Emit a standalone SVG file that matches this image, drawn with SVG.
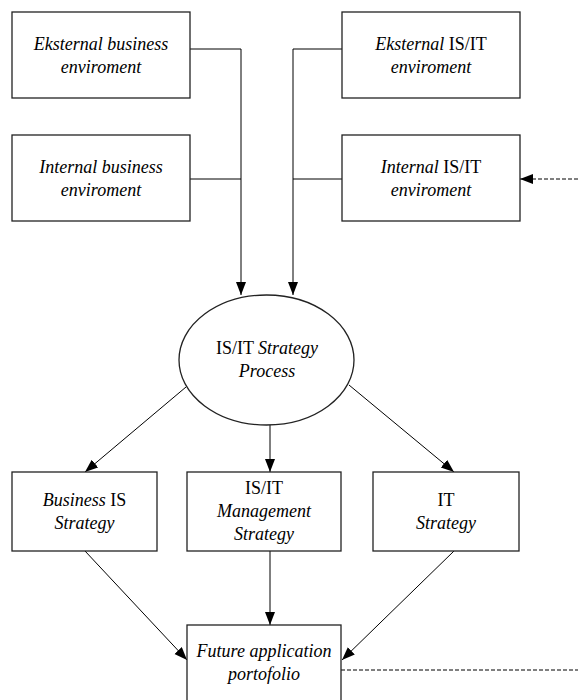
<svg xmlns="http://www.w3.org/2000/svg" width="578" height="700" viewBox="0 0 578 700">
<style>
.box{fill:#fff;stroke:#222;stroke-width:1.3}
.ln{fill:none;stroke:#000;stroke-width:1}
.dash{fill:none;stroke:#000;stroke-width:1;stroke-dasharray:4 2}
text{font-family:'Liberation Serif','Tinos','Times New Roman','Nimbus Roman','DejaVu Serif',serif;font-size:18px;fill:#000;text-anchor:middle}
.i{font-style:italic}
</style>
<defs>
<marker id="ah" markerUnits="userSpaceOnUse" markerWidth="14" markerHeight="12" refX="13" refY="5" orient="auto">
<path d="M0,0 L13,5 L0,10 Z" fill="#000"/>
</marker>
</defs>
<rect width="578" height="700" fill="#fff"/>
<g id="connectors">
<polyline class="ln" points="190,49 241,49 241,295" marker-end="url(#ah)"/>
<line class="ln" x1="190" y1="179" x2="241" y2="179"/>
<polyline class="ln" points="342,49 293,49 293,295" marker-end="url(#ah)"/>
<line class="ln" x1="342" y1="179" x2="293" y2="179"/>
<line class="dash" x1="578" y1="179" x2="520" y2="179" marker-end="url(#ah)"/>
<line class="ln" x1="186" y1="387" x2="85" y2="472" marker-end="url(#ah)"/>
<line class="ln" x1="270" y1="425" x2="270" y2="472" marker-end="url(#ah)"/>
<line class="ln" x1="349" y1="385" x2="454" y2="472" marker-end="url(#ah)"/>
<line class="ln" x1="85" y1="551" x2="187" y2="660" marker-end="url(#ah)"/>
<line class="ln" x1="270" y1="551" x2="270" y2="625" marker-end="url(#ah)"/>
<line class="ln" x1="454" y1="551" x2="342" y2="660" marker-end="url(#ah)"/>
<line class="dash" x1="341" y1="670" x2="578" y2="670"/>
</g>
<g id="ext-business">
<rect class="box" x="12" y="12" width="178" height="86"/>
<text x="101" y="50" class="i">Eksternal business</text>
<text x="101" y="73" class="i">enviroment</text>
</g>
<g id="int-business">
<rect class="box" x="12" y="135" width="178" height="86"/>
<text x="101" y="173" class="i">Internal business</text>
<text x="101" y="196" class="i">enviroment</text>
</g>
<g id="ext-isit">
<rect class="box" x="342" y="12" width="178" height="86"/>
<text x="431" y="50"><tspan class="i">Eksternal</tspan> IS/IT</text>
<text x="431" y="73" class="i">enviroment</text>
</g>
<g id="int-isit">
<rect class="box" x="342" y="135" width="178" height="86"/>
<text x="431" y="173"><tspan class="i">Internal</tspan> IS/IT</text>
<text x="431" y="196" class="i">enviroment</text>
</g>
<g id="strategy-process">
<ellipse class="box" cx="266.5" cy="360" rx="87.5" ry="65"/>
<text x="267" y="354">IS/IT <tspan class="i">Strategy</tspan></text>
<text x="267" y="377" class="i">Process</text>
</g>
<g id="business-is">
<rect class="box" x="12" y="472" width="145" height="79"/>
<text x="84.5" y="506"><tspan class="i">Business</tspan> IS</text>
<text x="84.5" y="529" class="i">Strategy</text>
</g>
<g id="isit-management">
<rect class="box" x="187" y="472" width="154" height="79"/>
<text x="264" y="494">IS/IT</text>
<text x="264" y="517" class="i">Management</text>
<text x="264" y="540" class="i">Strategy</text>
</g>
<g id="it-strategy">
<rect class="box" x="373" y="472" width="146" height="79"/>
<text x="446" y="506">IT</text>
<text x="446" y="529" class="i">Strategy</text>
</g>
<g id="future-portfolio">
<rect class="box" x="187" y="625" width="154" height="80"/>
<text x="264" y="657" class="i">Future application</text>
<text x="264" y="680" class="i">portofolio</text>
</g>
</svg>
